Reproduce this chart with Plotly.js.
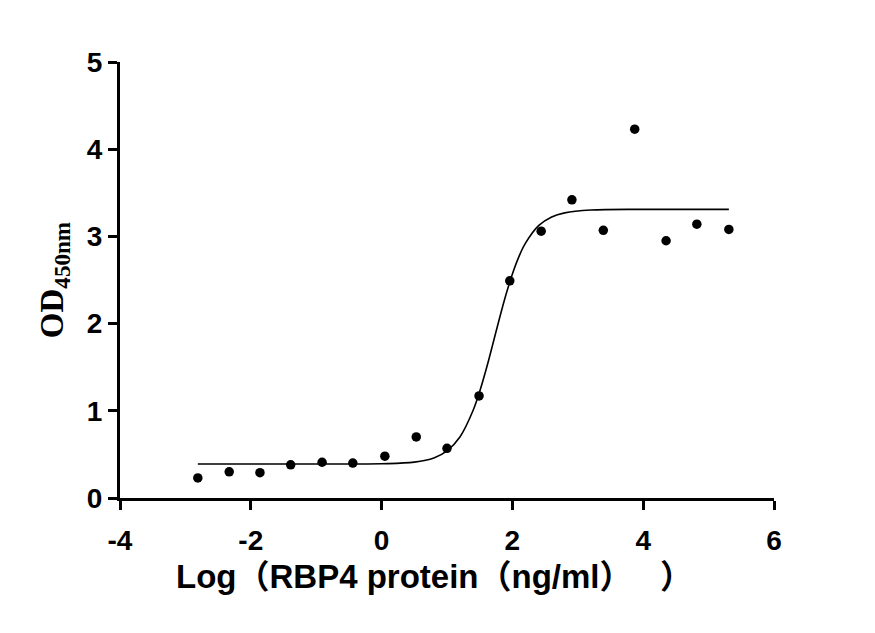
<!DOCTYPE html>
<html>
<head>
<meta charset="utf-8">
<script src="https://cdn.plot.ly/plotly-3.0.1.min.js"></script>
<style>html,body{margin:0;padding:0;background:#fff;}#chart{width:875px;height:633px;}</style>
</head>
<body>
<div id="chart"></div>
<script>
// Measured points: log concentration vs OD450nm
const logConc = [-2.81, -2.33, -1.86, -1.39, -0.91, -0.44, 0.05, 0.53, 1.00, 1.49, 1.96, 2.44, 2.91, 3.39, 3.87, 4.35, 4.82, 5.31];
const odValues = [0.23, 0.30, 0.29, 0.38, 0.41, 0.40, 0.48, 0.70, 0.57, 1.17, 2.49, 3.06, 3.42, 3.07, 4.23, 2.95, 3.14, 3.08];

// Fitted curve
const curveX = [-2.81, -1.0, 0.0, 0.5, 0.8, 1.0, 1.2, 1.4, 1.5, 1.6, 1.7, 1.8, 1.9, 2.0, 2.1, 2.2, 2.4, 2.6, 2.8, 3.2, 4.0, 5.31];
const curveY = [0.39, 0.39, 0.393, 0.411, 0.459, 0.540, 0.703, 1.006, 1.222, 1.479, 1.763, 2.053, 2.328, 2.569, 2.768, 2.922, 3.123, 3.223, 3.270, 3.302, 3.310, 3.310];

const xTicks = [-4, -2, 0, 2, 4, 6];
const yTicks = [0, 1, 2, 3, 4, 5];

const xTitle = 'Log（RBP4 protein（ng/ml）   ）';
const yTitle = 'OD<sub>450nm</sub>';

const tickFont = {family: 'Liberation Sans, Arial, sans-serif', size: 28, color: '#000', weight: 'bold'};

const data = [
  {x: curveX, y: curveY, mode: 'lines', line: {color: '#000', width: 1.6, shape: 'spline'}, hoverinfo: 'skip'},
  {x: logConc, y: odValues, mode: 'markers', marker: {color: '#000', size: 9.5}}
];

const layout = {
  width: 875, height: 633,
  margin: {l: 120, r: 101, t: 62, b: 135},
  paper_bgcolor: '#fff', plot_bgcolor: '#fff',
  showlegend: false,
  xaxis: {
    range: [-4, 6], tickvals: xTicks, ticktext: xTicks.map(String),
    showgrid: false, zeroline: false, showline: true, linecolor: '#000', linewidth: 3,
    ticks: 'outside', ticklen: 9, tickwidth: 3, tickcolor: '#000',
    tickfont: tickFont, ticklabelstandoff: 6
  },
  yaxis: {
    range: [0, 5], tickvals: yTicks, ticktext: yTicks.map(String),
    showgrid: false, zeroline: false, showline: true, linecolor: '#000', linewidth: 3,
    ticks: 'outside', ticklen: 9, tickwidth: 3, tickcolor: '#000',
    tickfont: tickFont,
    title: {text: yTitle, font: {family: 'Liberation Serif, Times New Roman, serif', size: 33, color: '#000', weight: 'bold'}, standoff: 14}
  },
  annotations: [{
    text: xTitle, xref: 'paper', yref: 'paper', x: 0.481, y: -0.179,
    xanchor: 'center', yanchor: 'middle', showarrow: false,
    font: {family: 'Liberation Sans, Arial, Noto Sans CJK SC, sans-serif', size: 33, color: '#000', weight: 'bold'}
  }]
};

Plotly.newPlot('chart', data, layout, {displayModeBar: false, staticPlot: true});
</script>
</body>
</html>
